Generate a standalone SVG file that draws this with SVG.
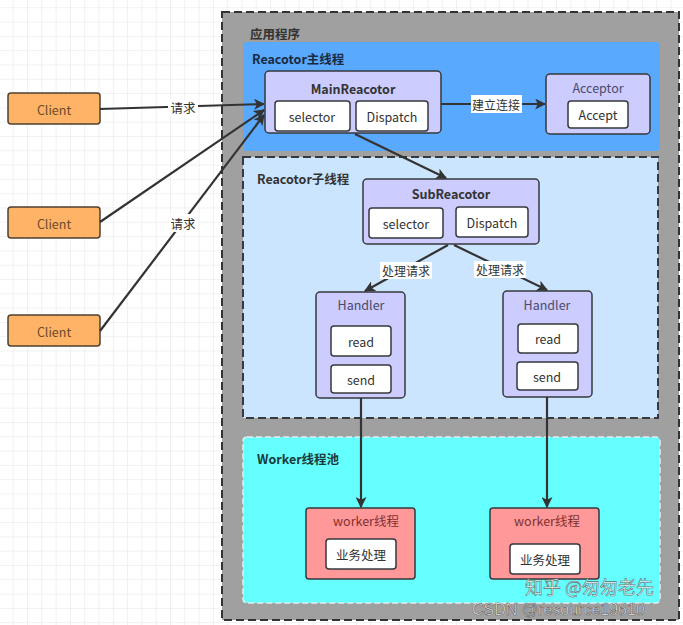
<svg xmlns="http://www.w3.org/2000/svg" width="683" height="625" viewBox="0 0 683 625">
<style>
text{font-family:"Noto Sans CJK SC","Noto Sans",sans-serif;font-size:12.5px;fill:#333;text-anchor:middle;dominant-baseline:central}
.t{font-weight:bold;text-anchor:start;font-size:12.5px}
.b{font-weight:bold}
.node{fill:#ccccff;stroke:#36393d;stroke-width:1.5}
.inner{fill:#fff;stroke:#36393d;stroke-width:1.5}
.client{fill:#ffb366;stroke:#4d4030;stroke-width:1.5}
.worker{fill:#ff9999;stroke:#36393d;stroke-width:1.5}
.edge{fill:none;stroke:#333;stroke-width:2.2}
.wm{font-family:"Liberation Sans","Noto Sans CJK SC",sans-serif;fill:#fff;fill-opacity:0.85;stroke:#444;stroke-width:0.6;stroke-opacity:0.8;text-anchor:start}
</style>
<defs>
<pattern id="grid" width="14.3" height="14.3" patternUnits="userSpaceOnUse" x="12.7" y="7.3">
<path d="M0 0H14.3M0 0V14.3" fill="none" stroke="#e3e3e3" stroke-width="1"/>
</pattern>
<marker id="ar" viewBox="0 0 10 10" refX="9" refY="5" markerWidth="5" markerHeight="5" orient="auto" markerUnits="strokeWidth">
<path d="M0 0L10 5L0 10L2.5 5Z" fill="#333"/>
</marker>
</defs>
<rect width="683" height="625" fill="#fff"/>
<rect width="683" height="625" fill="url(#grid)"/>

<g id="app">
<rect x="222" y="12" width="457" height="608" fill="#a0a0a0" stroke="#333" stroke-width="2" stroke-dasharray="8 4"/>
<text class="t" x="250" y="33">应用程序</text>
</g>

<g id="main-thread">
<rect x="243" y="42" width="417" height="109" rx="4" fill="#59a9ff"/>
<text class="t" x="252" y="58" style="fill:#1a2a40">Reacotor主线程</text>
</g>

<g id="sub-thread">
<rect x="243" y="157" width="415" height="261" fill="#cce5ff" stroke="#36393d" stroke-width="2" stroke-dasharray="8 4"/>
<text class="t" x="257" y="178">Reacotor子线程</text>
</g>

<g id="worker-pool">
<rect x="243" y="437" width="417" height="166" rx="4" fill="#66ffff" stroke="#e0f0f0" stroke-width="1.5" stroke-dasharray="6 3"/>
<text class="t" x="257" y="458" style="fill:#1a3a3a">Worker线程池</text>
</g>

<g id="client1">
<rect class="client" x="8" y="93" width="92" height="31" rx="3"/>
<text x="54" y="109" style="fill:#6b4a2a">Client</text>
</g>
<g id="client2">
<rect class="client" x="8" y="207" width="92" height="31" rx="3"/>
<text x="54" y="223" style="fill:#6b4a2a">Client</text>
</g>
<g id="client3">
<rect class="client" x="8" y="315" width="92" height="31" rx="3"/>
<text x="54" y="331" style="fill:#6b4a2a">Client</text>
</g>

<g id="mainreactor">
<rect class="node" x="265" y="71" width="176" height="62" rx="4"/>
<text class="b" x="353" y="88">MainReacotor</text>
<rect class="inner" x="275" y="101" width="75" height="30" rx="3"/>
<text x="312" y="116">selector</text>
<rect class="inner" x="356" y="101" width="72" height="30" rx="3"/>
<text x="392" y="116">Dispatch</text>
</g>

<g id="acceptor">
<rect class="node" x="546" y="74" width="104" height="60" rx="4"/>
<text x="598" y="87" style="fill:#4a4a6a">Acceptor</text>
<rect class="inner" x="568" y="101" width="60" height="27" rx="3"/>
<text x="598" y="114">Accept</text>
</g>

<g id="subreactor">
<rect class="node" x="363" y="179" width="176" height="65" rx="4"/>
<text class="b" x="451" y="193">SubReacotor</text>
<rect class="inner" x="369" y="208" width="74" height="30" rx="3"/>
<text x="406" y="223">selector</text>
<rect class="inner" x="456" y="207" width="72" height="30" rx="3"/>
<text x="492" y="222">Dispatch</text>
</g>

<g id="handler1">
<rect class="node" x="316" y="292" width="89" height="106" rx="4"/>
<text x="361" y="304" style="fill:#4a4a6a">Handler</text>
<rect class="inner" x="331" y="326" width="60" height="30" rx="3"/>
<text x="361" y="341">read</text>
<rect class="inner" x="331" y="365" width="60" height="28" rx="3"/>
<text x="361" y="379">send</text>
</g>

<g id="handler2">
<rect class="node" x="503" y="291" width="89" height="106" rx="4"/>
<text x="547" y="304" style="fill:#4a4a6a">Handler</text>
<rect class="inner" x="518" y="324" width="60" height="29" rx="3"/>
<text x="548" y="338">read</text>
<rect class="inner" x="517" y="362" width="61" height="28" rx="3"/>
<text x="547" y="376">send</text>
</g>

<g id="worker1">
<rect class="worker" x="306" y="508" width="109" height="71" rx="3"/>
<text x="366" y="520" style="fill:#803030">worker线程</text>
<rect class="inner" x="326" y="539" width="70" height="30" rx="3"/>
<text x="361" y="554">业务处理</text>
</g>

<g id="worker2">
<rect class="worker" x="490" y="508" width="109" height="71" rx="3"/>
<text x="547" y="520" style="fill:#803030">worker线程</text>
<rect class="inner" x="510" y="544" width="70" height="30" rx="3"/>
<text x="545" y="559">业务处理</text>
</g>

<g id="connectors">
<path class="edge" d="M100 109L264 104" marker-end="url(#ar)"/>
<path class="edge" d="M100 222L264 110" marker-end="url(#ar)"/>
<path class="edge" d="M100 331L264 115" marker-end="url(#ar)"/>
<rect x="169" y="214" width="28" height="18" fill="#fff"/>
<text x="183" y="223">请求</text>
<rect x="168" y="99" width="30" height="17" fill="#fff"/>
<text x="183" y="107">请求</text>
<path class="edge" d="M441 104L545 104" marker-end="url(#ar)"/>
<rect x="471" y="95" width="51" height="18" fill="#fff"/>
<text x="496" y="104" style="font-size:12px">建立连接</text>
<path class="edge" d="M355 134L446 178" marker-end="url(#ar)"/>
<path class="edge" d="M448 245L365 291" marker-end="url(#ar)"/>
<path class="edge" d="M454 245L547 290" marker-end="url(#ar)"/>
<rect x="380" y="262" width="52" height="17" fill="#fff"/>
<text x="406" y="270" style="font-size:12px">处理请求</text>
<rect x="474" y="261" width="52" height="17" fill="#fff"/>
<text x="500" y="269" style="font-size:12px">处理请求</text>
<path class="edge" d="M361 398L361 507" marker-end="url(#ar)"/>
<path class="edge" d="M547 397L547 507" marker-end="url(#ar)"/>
</g>

<g id="watermark">
<text class="wm" x="525" y="586" style="font-size:18px;font-family:'Noto Sans CJK SC',sans-serif">知乎 @匆匆老先</text>
<text class="wm" x="472" y="609" style="font-size:16px">CSDN @resource19610</text>
</g>
</svg>
